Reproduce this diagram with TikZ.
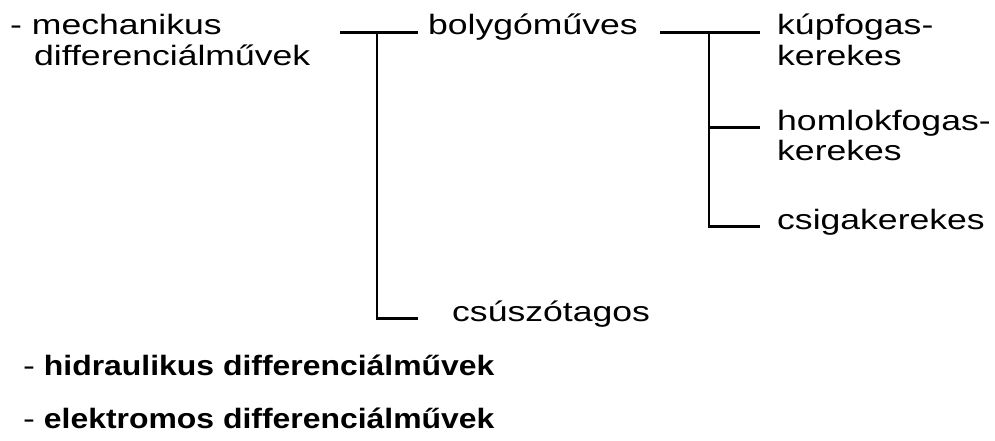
\documentclass[tikz,border=0pt]{standalone}
\usepackage{fontspec}
\newfontfamily\regfont{Liberation Sans}[FakeStretch=1.27]
\newfontfamily\heavyfont{Liberation Sans}[FakeStretch=1.14]
\newcommand{\stacked}[2]{\vtop{\hbox{#1}\hbox{#2}}}

\begin{document}
\begin{tikzpicture}[
    x=1pt, y=-1pt,
    lbl/.style={inner sep=0pt, anchor=base west, font=\regfont\fontsize{28}{31}\selectfont},
    heavy/.style={lbl, font=\heavyfont\fontsize{28}{31}\selectfont},
    branch/.style={line width=2.8pt}
]
\useasboundingbox (0,0) rectangle (995,441);

\node[lbl] (mech) at (10,35) {\stacked{- mechanikus}{\hskip24pt differenciálművek}};
\node[lbl] (bolygo) at (428,35) {bolygóműves};
\node[lbl] (csuszo) at (452,321) {csúszótagos};
\node[lbl] (kup) at (777,35) {\stacked{kúpfogas-}{kerekes}};
\node[lbl] (homlok) at (777,130) {\stacked{homlokfogas-}{kerekes}};
\node[lbl] (csiga) at (777,229) {csigakerekes};

\node[heavy] (hidr) at (23,375) {{\regfont -} \bfseries hidraulikus differenciálművek};
\node[heavy] (elektr) at (23,428) {{\regfont -} \bfseries elektromos differenciálművek};

\coordinate (m1) at (340,0);
\coordinate (j1) at (377,0);
\coordinate (b1) at (660,0);
\coordinate (j2) at (709,0);

\draw[branch, shorten >=10pt] (m1 |- bolygo.mid west) -- (bolygo.mid west);
\draw[branch, shorten >=34pt] (j1 |- bolygo.mid west) |- (csuszo.mid west);
\draw[branch, shorten >=17pt] (b1 |- kup.mid west) -- (kup.mid west);
\draw[branch, shorten >=17pt] (j2 |- kup.mid west) |- (csiga.mid west);
\draw[branch, shorten >=17pt] (j2 |- homlok.mid west) -- (homlok.mid west);
\end{tikzpicture}
\end{document}
